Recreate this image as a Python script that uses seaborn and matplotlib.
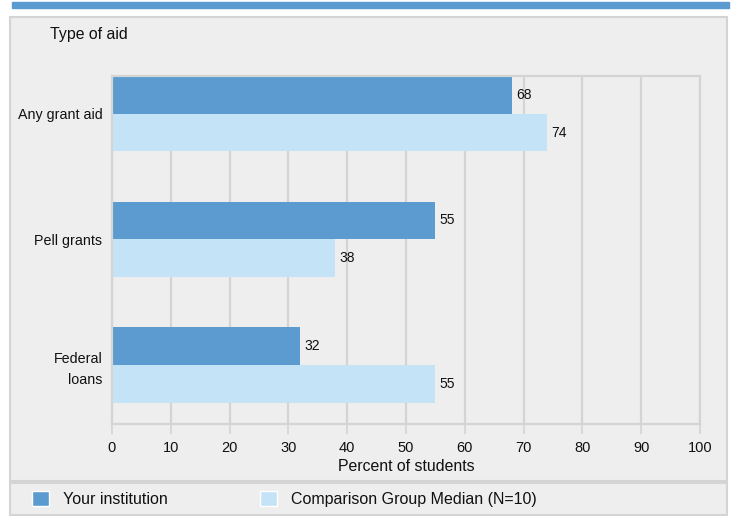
import pandas as pd
import seaborn as sns
from matplotlib import pyplot as plt
from matplotlib.patches import Rectangle, Patch

# data
aid_types = ['Any grant aid', 'Pell grants', 'Federal\nloans']
your_inst = [68, 55, 32]
comparison = [74, 38, 55]
groups = ['Your institution', 'Comparison Group Median (N=10)']
colors = ['#5b9bd0', '#c5e3f6']

df = pd.DataFrame({
    'aid': aid_types * 2,
    'pct': your_inst + comparison,
    'group': [groups[0]] * 3 + [groups[1]] * 3,
})

sns.set_theme(style='white')
plt.rcParams['font.family'] = ['Liberation Sans', 'DejaVu Sans']

W, H = 737, 516
fig = plt.figure(figsize=(W / 100, H / 100), dpi=100)


def box(x0, y0, x1, y1):
    # pixel coords (top-left origin) -> figure fraction
    return (x0 / W, 1 - y1 / H), (x1 - x0) / W, (y1 - y0) / H


# top blue stripe, main panel and legend panel (behind the axes)
xy, w, h = box(12, 2, 729, 8)
fig.patches.append(Rectangle(xy, w, h, transform=fig.transFigure, color='#5b9bd0', zorder=-5))
xy, w, h = box(10, 17, 727, 481)
fig.patches.append(Rectangle(xy, w, h, transform=fig.transFigure, facecolor='#eeeeee',
                             edgecolor='#d4d4d4', linewidth=1.5, zorder=-5))
xy, w, h = box(10, 483, 727, 515)
fig.patches.append(Rectangle(xy, w, h, transform=fig.transFigure, facecolor='#eeeeee',
                             edgecolor='#d4d4d4', linewidth=1.5, zorder=-5))

ax = fig.add_axes([112 / W, 1 - 424 / H, (700 - 112) / W, (424 - 76) / H])
ax.set_facecolor('#eeeeee')

sns.barplot(data=df, y='aid', x='pct', hue='group', orient='h', width=0.6,
            palette=colors, ax=ax, legend=False, saturation=1, linewidth=0)

for c in ax.containers:
    ax.bar_label(c, padding=3, fontsize=10, color='#111111')

ax.set_xlim(0, 100)
ax.set_ylim(2.47, -0.3)
ax.set_xticks(range(0, 101, 10))
ax.xaxis.grid(True, color='#d4d4d4', linewidth=1.6)
ax.set_axisbelow(True)
for s in ax.spines.values():
    s.set_color('#d4d4d4')
    s.set_linewidth(1.6)
ax.tick_params(axis='x', bottom=True, length=7, width=1.2, color='#d4d4d4',
               labelsize=10.5, labelcolor='#111111', pad=5)
ax.tick_params(axis='y', left=False, length=0, labelsize=10.3, labelcolor='#111111', pad=7)
for lab in ax.get_yticklabels():
    lab.set_linespacing(1.55)
ax.set_xlabel('Percent of students', fontsize=11.4, color='#111111', labelpad=3)
ax.set_ylabel('')

fig.text(50 / W, 1 - 35 / H, 'Type of aid', fontsize=11.4, color='#111111', va='center')

handles = [Patch(facecolor=colors[0]), Patch(facecolor=colors[1])]
fig.legend(handles, groups, loc='center left', bbox_to_anchor=(18 / W, 1 - 499 / H),
           ncol=2, frameon=False, fontsize=11.5, handlelength=1.06, handleheight=1.1,
           handletextpad=0.85, columnspacing=5.8, labelcolor='#111111')

plt.savefig('out.png', dpi=100)
